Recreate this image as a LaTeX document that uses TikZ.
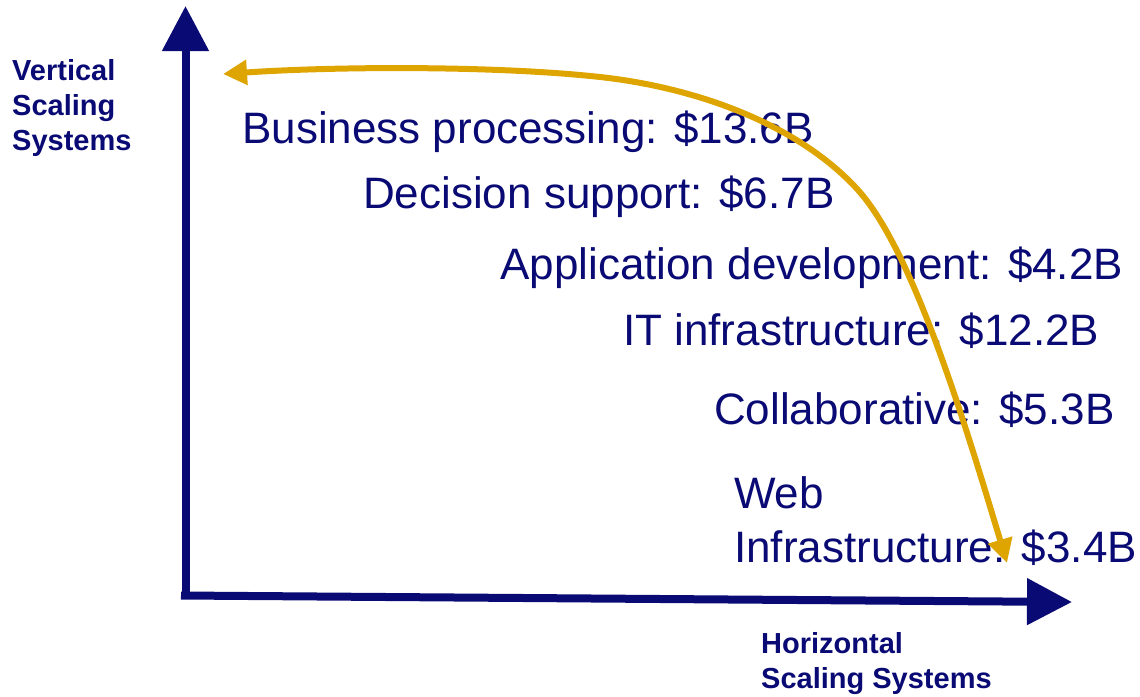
\documentclass[tikz,border=0pt]{standalone}
\usepackage{fontspec}
\setmainfont{Liberation Sans}
\usetikzlibrary{arrows.meta}

\definecolor{chartnavy}{RGB}{10,10,117}
\definecolor{trendgold}{RGB}{222,165,0}

\tikzset{
  axisline/.style={chartnavy, line width=8pt, -{Triangle[length=45pt,width=45pt]}},
  trendline/.style={trendgold, line width=6pt, {Triangle[length=24pt,width=24pt]}-{Triangle[length=24pt,width=24pt]}},
  market/.style={anchor=base west, inner sep=0pt, text=chartnavy, align=left, font=\fontsize{44}{54}\selectfont},
  axislabel/.style={anchor=base west, inner sep=0pt, text=chartnavy, align=left, font=\fontsize{29}{35}\selectfont\bfseries}
}

\begin{document}
\begin{tikzpicture}[x=1pt,y=-1pt]
\useasboundingbox (0,0) rectangle (1140,696);

\coordinate (xstart) at (181,595.5);
\coordinate (xtip) at (1072,602);
\coordinate (ybase) at (185.5,599);
\coordinate (ytip) at (185.5,6);
\coordinate (webend) at (1007,563);
\coordinate (bizend) at (223,74);

\draw [axisline] (xstart) -- (xtip);
\draw [axisline] (ybase) -- (ytip);

\node [axislabel] (vlabel) at (12,150) {Vertical\\Scaling\\Systems};
\node [axislabel] (hlabel) at (761,688) {Horizontal\\Scaling Systems};

\node [market] (business) at (242,143) {Business processing: \$13.6B};
\node [market] (decision) at (363,208) {Decision support: \$6.7B};
\node [market] (appdev) at (500,279) {Application development: \$4.2B};
\node [market] (itinfra) at (623,345) {IT infrastructure: \$12.2B};
\node [market] (collab) at (714,424) {Collaborative: \$5.3B};
\node [market] (webinfra) at (734,562) {Web\\Infrastructure: \$3.4B};

\draw [trendline] (webend) .. controls (962,413) and (912,250) .. (858,190)
  .. controls (800,126) and (700,88) .. (600,77)
  .. controls (500,66) and (343,66) .. (bizend);

\end{tikzpicture}
\end{document}
